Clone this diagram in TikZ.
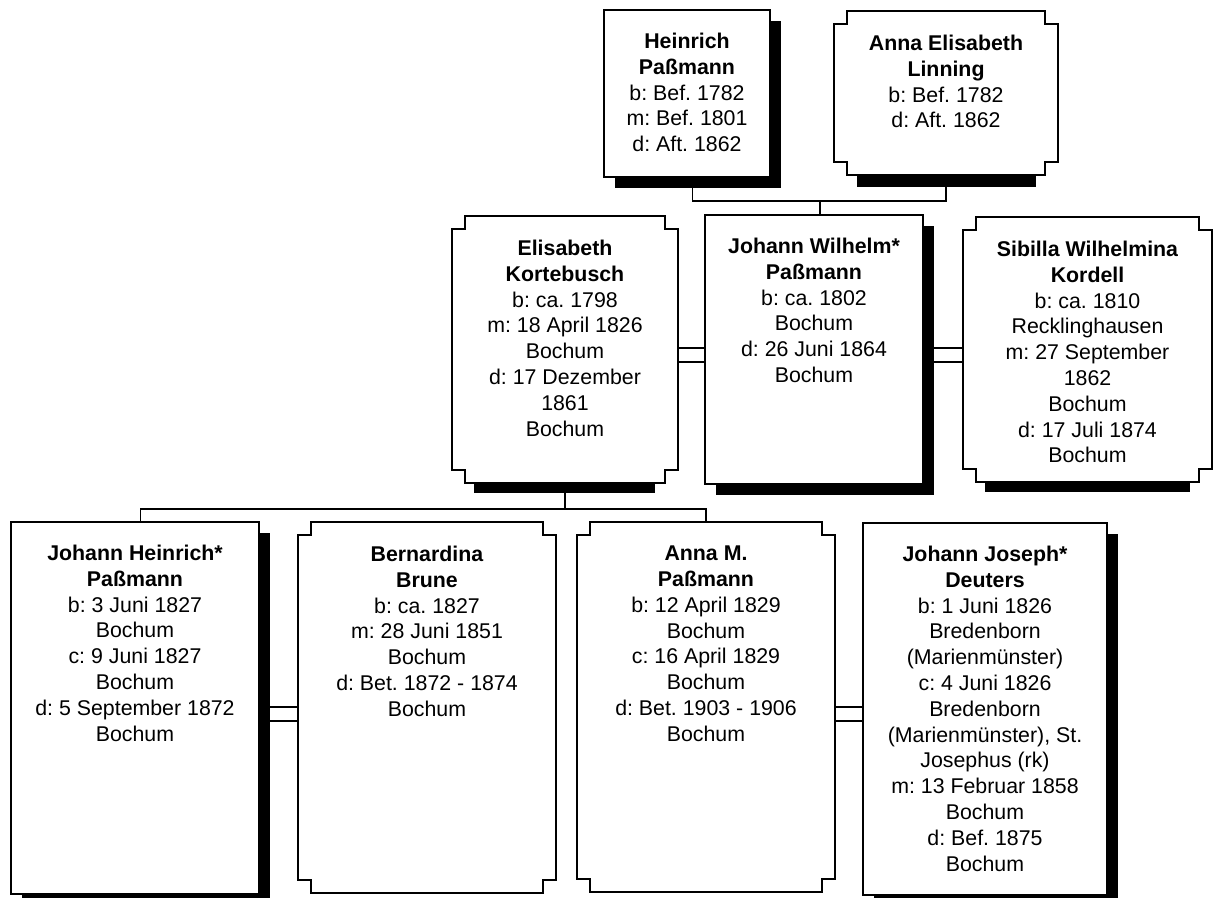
\documentclass[tikz,border=0pt]{standalone}
\usepackage{fontspec}
\setmainfont{Liberation Sans}
\usetikzlibrary{calc,fit}
\frenchspacing
\newcommand\notchsz{13}
\newcommand\notchdraw[1]{%
  \draw[notchline] ($(#1.north west)+(\notchsz,0)$) -- ($(#1.north east)+(-\notchsz,0)$)
    -- ++(0,\notchsz) -- ++(\notchsz,0) -- ($(#1.south east)+(0,-\notchsz)$)
    -- ++(-\notchsz,0) -- ++(0,\notchsz) -- ($(#1.south west)+(\notchsz,0)$)
    -- ++(0,-\notchsz) -- ++(-\notchsz,0) -- ($(#1.north west)+(0,\notchsz)$)
    -- ++(\notchsz,0) -- cycle;}
\begin{document}
\begin{tikzpicture}[
            x={(0.75pt,0pt)},
            y={(0pt,-0.75pt)},
            rectbox/.style={draw, line width=1.8pt, fill=white, inner sep=0pt},
            notchfit/.style={inner sep=0pt},
            notchline/.style={line width=1.5pt, line join=miter},
            shade/.style={fill=black, inner sep=0pt},
            conn/.style={line width=1.2pt},
            txt/.style={anchor=north, align=center, inner sep=0pt,
                font=\fontsize{16}{19.35}\selectfont}
        ]
        \useasboundingbox (0,0) rectangle (1214,897);

        % generation 1
        \node[shade, fit={(615,21) (781,188)}] (heinrichS) {};
        \node[rectbox, fit={(604,10) (770,177)}] (heinrich) {};
        \node[shade, fit={(857,175) (1036,187)}] (linningS) {};
        \node[notchfit, fit={(834,11) (1058,175)}] (linning) {};
        \notchdraw{linning}

        % generation 2
        \node[shade, fit={(474,483) (655,493)}] (kortebuschS) {};
        \node[notchfit, fit={(452,216) (678,483)}] (kortebusch) {};
        \notchdraw{kortebusch}
        \node[shade, fit={(716,226) (934,495)}] (wilhelmS) {};
        \node[rectbox, fit={(705,215) (923,484)}] (wilhelm) {};
        \node[shade, fit={(985,482) (1190,492)}] (kordellS) {};
        \node[notchfit, fit={(963,217) (1212,482)}] (kordell) {};
        \notchdraw{kordell}

        % generation 3
        \node[shade, fit={(22,533) (270,906)}] (heinrichjS) {};
        \node[rectbox, fit={(11,522) (259,894)}] (heinrichj) {};
        \node[notchfit, fit={(298,522) (556,893)}] (brune) {};
        \notchdraw{brune}
        \node[notchfit, fit={(577,522) (835,892)}] (annam) {};
        \notchdraw{annam}
        \node[shade, fit={(874,534) (1118,906)}] (deutersS) {};
        \node[rectbox, fit={(863,523) (1107,895)}] (deuters) {};

        % texts
        \node[txt] (heinrichT) at ($(heinrich.north)+(0,24)$)
            {\textbf{Heinrich}\\\textbf{Paßmann}\\b: Bef. 1782\\m: Bef. 1801\\d: Aft. 1862};
        \node[txt] (linningT) at ($(linning.north)+(0,24)$)
            {\textbf{Anna Elisabeth}\\\textbf{Linning}\\b: Bef. 1782\\d: Aft. 1862};
        \node[txt] (kortebuschT) at ($(kortebusch.north)+(0,24)$)
            {\textbf{Elisabeth}\\\textbf{Kortebusch}\\b: ca. 1798\\m: 18 April 1826\\Bochum\\d: 17 Dezember\\1861\\Bochum};
        \node[txt] (wilhelmT) at ($(wilhelm.north)+(0,24)$)
            {\textbf{Johann Wilhelm*}\\\textbf{Paßmann}\\b: ca. 1802\\Bochum\\d: 26 Juni 1864\\Bochum};
        \node[txt] (kordellT) at ($(kordell.north)+(0,24)$)
            {\textbf{Sibilla Wilhelmina}\\\textbf{Kordell}\\b: ca. 1810\\Recklinghausen\\m: 27 September\\1862\\Bochum\\d: 17 Juli 1874\\Bochum};
        \node[txt] (heinrichjT) at ($(heinrichj.north)+(0,24)$)
            {\textbf{Johann Heinrich*}\\\textbf{Paßmann}\\b: 3 Juni 1827\\Bochum\\c: 9 Juni 1827\\Bochum\\d: 5 September 1872\\Bochum};
        \node[txt] (bruneT) at ($(brune.north)+(0,24)$)
            {\textbf{Bernardina}\\\textbf{Brune}\\b: ca. 1827\\m: 28 Juni 1851\\Bochum\\d: Bet. 1872 - 1874\\Bochum};
        \node[txt] (annamT) at ($(annam.north)+(0,24)$)
            {\textbf{Anna M.}\\\textbf{Paßmann}\\b: 12 April 1829\\Bochum\\c: 16 April 1829\\Bochum\\d: Bet. 1903 - 1906\\Bochum};
        \node[txt] (deutersT) at ($(deuters.north)+(0,24)$)
            {\textbf{Johann Joseph*}\\\textbf{Deuters}\\b: 1 Juni 1826\\Bredenborn\\(Marienmünster)\\c: 4 Juni 1826\\Bredenborn\\(Marienmünster), St.\\Josephus (rk)\\m: 13 Februar 1858\\Bochum\\d: Bef. 1875\\Bochum};

        % family lines
        \coordinate (famA) at (820,201);
        \coordinate (famAl) at (692.5,201);
        \coordinate (famAr) at (946,201);
        \draw[conn] (famAl |- heinrichS.south) -- (famAl) -- (famAr) -- (famAr |- linningS.south);
        \draw[conn] (famA) -- (famA |- wilhelm.north);
        \coordinate (famB) at (565,509);
        \coordinate (famBl) at (140.5,509);
        \coordinate (famBr) at (706,509);
        \draw[conn] (famB |- kortebuschS.south) -- (famB);
        \draw[conn] (famBl |- heinrichj.north) -- (famBl) -- (famBr) -- (famBr |- annam.north);

        % marriages
        \foreach \yy in {348,362} {
            \draw[conn] (kortebusch.east |- 0,\yy) -- (wilhelm.west |- 0,\yy);
            \draw[conn] (wilhelmS.east |- 0,\yy) -- (kordell.west |- 0,\yy);
            \draw[conn] (heinrichjS.east |- 0,\yy+359) -- (brune.west |- 0,\yy+359);
            \draw[conn] (annam.east |- 0,\yy+359) -- (deuters.west |- 0,\yy+359);
        }
    \end{tikzpicture}
\end{document}
